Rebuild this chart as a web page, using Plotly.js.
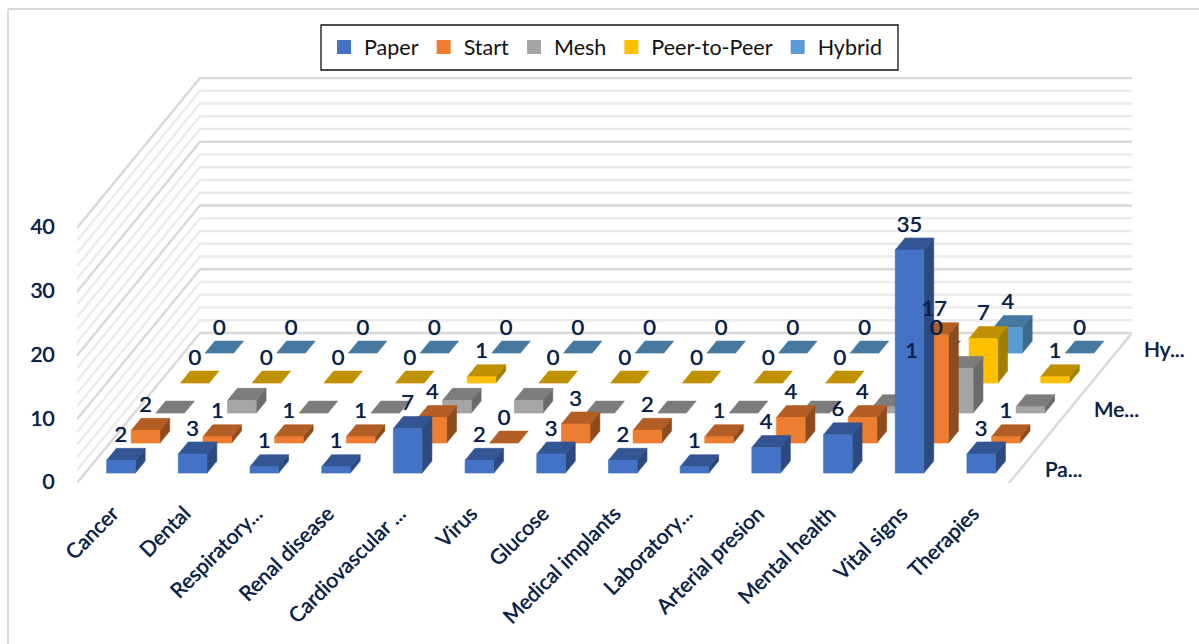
<!DOCTYPE html>
<html><head><meta charset="utf-8">
<script src="https://cdn.plot.ly/plotly-3.0.1.min.js"></script>
<style>html,body{margin:0;padding:0;background:#fff}#c{width:1199px;height:644px}</style></head>
<body><div id="c"></div>
<script>
const categories=["Cancer","Dental","Respiratory...","Renal disease","Cardiovascular ...","Virus","Glucose","Medical implants","Laboratory...","Arterial presion","Mental health","Vital signs","Therapies"];
const paper=[2,3,1,1,7,2,3,2,1,4,6,35,3];
const start=[2,1,1,1,4,0,3,2,1,4,4,17,1];
const mesh=[0,2,0,0,2,2,0,0,0,0,1,7,1];
const peer=[0,0,0,0,1,0,0,0,0,0,1,7,1];
const hybrid=[0,0,0,0,0,0,0,0,0,0,0,4,0];
const seriesNames=["Paper","Start","Mesh","Peer-to-Peer","Hybrid"];
const seriesValues=[paper,start,mesh,peer,hybrid];
const seriesLabelled=[true,true,false,true,true];
const frontColors=["#4472c4","#ed7d31","#a5a5a5","#ffc000","#5b9bd5"];
const topColors=["#335593","#b25e25","#7c7c7c","#bf9000","#47789f"];
const sideColors=["#2c4a80","#8e4b1e","#6b6b6b","#a07e00","#3c6a8e"];
const depthLabels=["Pa...","Me...","Hy..."];
const depthLabelRows=[0,2,4];
const valueTicks=[0,10,20,30,40];
const gridMajor=[0,10,20,30,40];
const gridMinor=[2,4,6,8,12,14,16,18,22,24,26,28,32,34,36,38];
const FONT="Lato, sans-serif", INK="#0c2049", HALO="0 0 0.7px #0c2049";

// oblique projection used by Excel's right-angle 3D column charts
const ROW_DX=24.6/71.67, ROW_DY=30/6.375, BAR_W=0.4, BAR_D=0.4, ROW_GAP=0.33, LABEL_UP=3.75;
const N=categories.length, ROWS=seriesNames.length;
const px=(c,r)=>c+r*ROW_DX, py=(v,r)=>v+r*ROW_DY;

function poly(pts,X,Y){pts.forEach(p=>{X.push(px(p[0],p[1]));Y.push(py(p[2],p[1]));});X.push(px(pts[0][0],pts[0][1]));Y.push(py(pts[0][2],pts[0][1]));X.push(null);Y.push(null);}
const traces=[];
function lineTrace(X,Y,color,width){traces.push({type:'scatter',mode:'lines',x:X,y:Y,line:{color:color,width:width},hoverinfo:'skip',showlegend:false,cliponaxis:false});}
function grid(vals,color,width){const X=[],Y=[];vals.forEach(v=>{
  X.push(px(-0.5,0),px(-0.5,ROWS),px(N-0.5,ROWS),null);Y.push(py(v,0),py(v,ROWS),py(v,ROWS),null);});lineTrace(X,Y,color,width);}
grid(gridMinor,"#ebebeb",2.5);
grid(gridMajor,"#d9d9d9",2.5);
lineTrace([px(N-0.5,0),px(N-0.5,ROWS)],[py(0,0),py(0,ROWS)],"#d9d9d9",2.5);

for(let s=ROWS-1;s>=0;s--){
  const r0=s+ROW_GAP, r1=r0+BAR_D, vals=seriesValues[s];
  const F=[[],[]],T=[[],[]],R=[[],[]];
  vals.forEach((v,i)=>{
    const a=i-BAR_W/2,b=i+BAR_W/2;
    if(v>0){poly([[a,r0,0],[b,r0,0],[b,r0,v],[a,r0,v]],F[0],F[1]);
            poly([[b,r0,0],[b,r1,0],[b,r1,v],[b,r0,v]],R[0],R[1]);}
    poly([[a,r0,v],[b,r0,v],[b,r1,v],[a,r1,v]],T[0],T[1]);
  });
  [[R,sideColors[s]],[T,topColors[s]],[F,frontColors[s]]].forEach(([P,col])=>{
    traces.push({type:'scatter',mode:'lines',x:P[0],y:P[1],fill:'toself',fillcolor:col,line:{width:0.6,color:col},hoverinfo:'skip',showlegend:false,cliponaxis:false,name:seriesNames[s]});
  });
}
// data labels
const lx=[],ly=[],lt=[];
for(let s=ROWS-1;s>=0;s--){ if(!seriesLabelled[s])continue;
  seriesValues[s].forEach((v,i)=>{lx.push(px(i,s+ROW_GAP));ly.push(py(v+LABEL_UP,s+ROW_GAP));lt.push(String(v));});}
traces.push({type:'scatter',mode:'text',x:lx,y:ly,text:lt,textposition:'middle center',textfont:{family:FONT,size:22,color:INK,shadow:HALO},hoverinfo:'skip',showlegend:false,cliponaxis:false});
// legend entries
seriesNames.forEach((n,s)=>traces.push({type:'scatter',mode:'markers',x:[null],y:[null],name:n,marker:{symbol:'square',size:14,color:frontColors[s]},hoverinfo:'skip'}));

const L=77,R=1132,TOP=77,BOT=483,W=1199,H=644;
const xp=v=>(v-L)/(R-L), yp=v=>(BOT-v)/(BOT-TOP);
const tickFont={family:FONT,size:21,color:INK,shadow:HALO};
const layout={
  width:W,height:H,paper_bgcolor:'#fff',plot_bgcolor:'rgba(0,0,0,0)',
  margin:{l:L,r:W-R,t:TOP,b:H-BOT,pad:0},
  font:{family:FONT,size:21,color:INK},
  xaxis:{range:[-0.5,N-0.5+ROWS*ROW_DX],tickmode:'array',tickvals:categories.map((_,i)=>i),ticktext:categories,tickangle:-45,
    showgrid:false,zeroline:false,showline:false,ticks:'outside',ticklen:9,tickcolor:'rgba(0,0,0,0)',fixedrange:true,tickfont:tickFont},
  yaxis:{range:[0,(BOT-TOP)/6.375],tickmode:'array',tickvals:valueTicks,ticktext:valueTicks.map(String),
    showgrid:false,zeroline:false,showline:false,ticks:'outside',ticklen:17,tickcolor:'rgba(0,0,0,0)',fixedrange:true,tickfont:tickFont,ticklabelshift:-1},
  showlegend:true,
  legend:{orientation:'h',x:xp(324),y:yp(47),xanchor:'left',yanchor:'middle',bgcolor:'rgba(0,0,0,0)',borderwidth:0,
    font:{family:FONT,size:21.5,color:'#111'},traceorder:'normal'},
  annotations:depthLabels.map((t,k)=>({x:px(N-0.5,depthLabelRows[k]+0.5),y:py(0,depthLabelRows[k]+0.5),xref:'x',yref:'y',text:t,showarrow:false,xanchor:'left',yanchor:'middle',xshift:22,font:{family:FONT,size:21,color:INK,shadow:HALO}})),
  shapes:[
    {type:'line',xref:'paper',yref:'paper',x0:xp(8),x1:xp(8),y0:yp(9),y1:yp(644),line:{color:'#d9d9d9',width:2},layer:'below'},
    {type:'line',xref:'paper',yref:'paper',x0:xp(8),x1:xp(1199),y0:yp(9),y1:yp(9),line:{color:'#d9d9d9',width:2},layer:'below'},
    {type:'rect',xref:'paper',yref:'paper',x0:xp(321),x1:xp(898),y0:yp(25),y1:yp(70),line:{color:'#111',width:1.3},fillcolor:'#fff',layer:'below'}
  ]
};
Plotly.newPlot('c',traces,layout,{displayModeBar:false,staticPlot:true});
</script></body></html>
